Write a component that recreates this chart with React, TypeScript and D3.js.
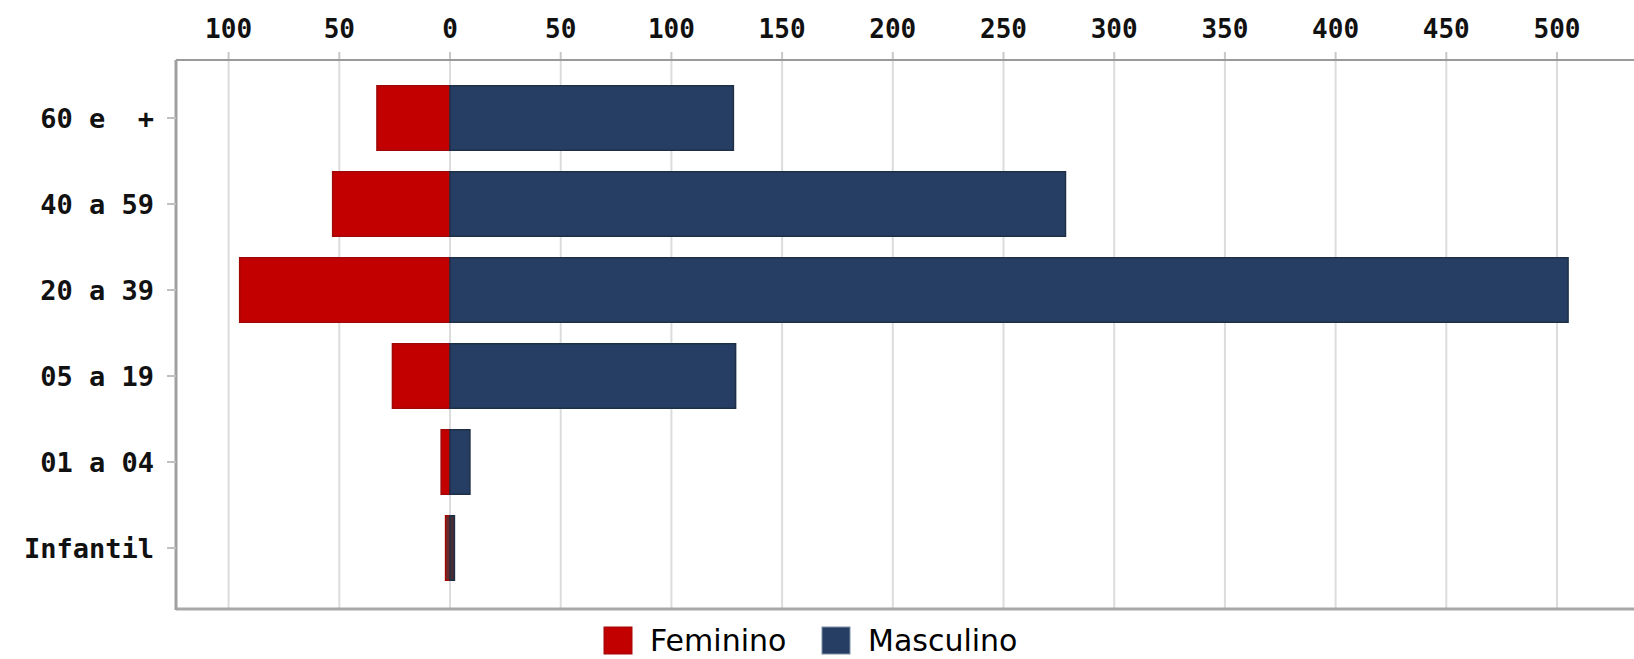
import React from 'react';
import * as d3 from 'd3';

// faixas etárias, de cima para baixo
const categories = ['60 e  +', '40 a 59', '20 a 39', '05 a 19', '01 a 04', 'Infantil'];
const feminino = [33, 53, 95, 26, 4, 2];
const masculino = [128, 278, 505, 129, 9, 2];
const xTicks = [-100, -50, 0, 50, 100, 150, 200, 250, 300, 350, 400, 450, 500];

const W = 1634;
const H = 659;
const plotLeft = 176;
const plotTop = 60;
const plotBottom = 609;

const RED = '#c30000';
const BLUE = '#263e63';

const App: React.FC = () => {
  const x = d3.scaleLinear().domain([0, 500]).range([450, 1557]);
  const y = d3
    .scaleBand<string>()
    .domain(categories)
    .range([75, 591])
    .paddingInner(0.25)
    .paddingOuter(0.125);

  const mono = '"DejaVu Sans Mono", monospace';

  return (
    <svg
      width={W}
      height={H}
      style={{ position: 'absolute', left: 0, top: 0, background: '#fff' }}
    >
      {/* grid */}
      {xTicks.map(t => (
        <g key={t}>
          <line x1={x(t)} x2={x(t)} y1={plotTop} y2={plotBottom} stroke="#dcdcdc" strokeWidth={2} />
          <line x1={x(t)} x2={x(t)} y1={52} y2={plotTop} stroke="#c8c8c8" strokeWidth={2} />
          <text
            x={x(t)}
            y={38}
            textAnchor="middle"
            fontFamily={mono}
            fontWeight="bold"
            fontSize={26}
            fill="#111"
          >
            {Math.abs(t)}
          </text>
        </g>
      ))}

      {/* bars */}
      {categories.map((c, i) => {
        const y0 = y(c) as number;
        const bh = y.bandwidth();
        return (
          <g key={c}>
            <rect
              x={x(-feminino[i])}
              y={y0}
              width={x(0) - x(-feminino[i])}
              height={bh}
              fill={i === 5 ? '#6a2a2a' : RED}
              stroke="#a00808"
              strokeWidth={1.5}
            />
            <rect
              x={x(0)}
              y={y0}
              width={x(masculino[i]) - x(0)}
              height={bh}
              fill={i === 5 ? '#4a2c34' : BLUE}
              stroke="#1e3048"
              strokeWidth={1.5}
            />
          </g>
        );
      })}

      {/* frame */}
      <line x1={plotLeft} x2={W} y1={plotTop} y2={plotTop} stroke="#9a9a9a" strokeWidth={2} />
      <line x1={plotLeft} x2={W} y1={plotBottom} y2={plotBottom} stroke="#a8a8a8" strokeWidth={3} />
      <line x1={plotLeft} x2={plotLeft} y1={plotTop} y2={plotBottom + 1} stroke="#a0a0a0" strokeWidth={3} />

      {/* y axis labels */}
      {categories.map(c => {
        const cy = (y(c) as number) + y.bandwidth() / 2;
        return (
          <g key={c}>
            <line x1={167} x2={plotLeft} y1={cy} y2={cy} stroke="#c0c0c0" strokeWidth={2} />
            <text
              x={154}
              y={cy + 10}
              textAnchor="end"
              fontFamily={mono}
              fontWeight="bold"
              fontSize={27}
              fill="#111"
              style={{ whiteSpace: 'pre' }}
            >
              {c}
            </text>
          </g>
        );
      })}

      {/* legend */}
      <rect x={604} y={627} width={28} height={27} fill={RED} stroke="#a00808" />
      <text x={650} y={651} fontFamily='"DejaVu Sans", sans-serif' fontSize={30} fill="#000">
        Feminino
      </text>
      <rect x={822} y={627} width={28} height={27} fill={BLUE} stroke="#7f8ea6" />
      <text x={868} y={651} fontFamily='"DejaVu Sans", sans-serif' fontSize={30} fill="#000">
        Masculino
      </text>
    </svg>
  );
};

export default App;
